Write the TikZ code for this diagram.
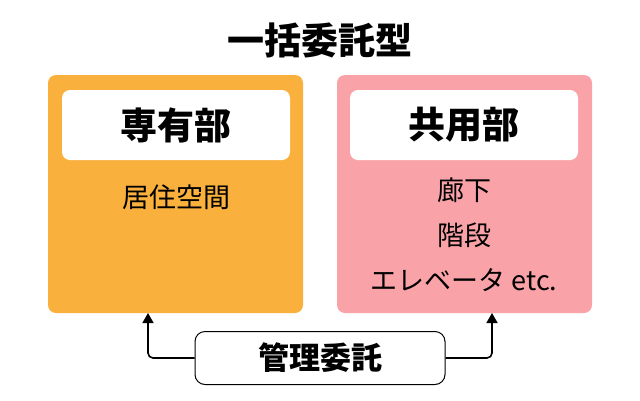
\documentclass[tikz,border=0pt]{standalone}
\usepackage{fontspec}
\setmainfont{Noto Sans CJK JP}
\usetikzlibrary{arrows.meta}
\definecolor{orng}{HTML}{F9B03C}
\definecolor{pnk}{HTML}{F9A3A9}
\tikzset{
  outer/.style={rounded corners=8pt,draw=none},
  inner/.style={fill=white,rounded corners=8pt,draw=none},
  conn/.style={line width=1.6pt,-{Triangle[length=10pt,width=11pt]},rounded corners=5pt},
}
\begin{document}
\begin{tikzpicture}[x=1pt,y=-1pt]
\useasboundingbox (0,0) rectangle (640,400);
\node (title) at (320,40) {\fontsize{37}{40}\selectfont\bfseries 一括委託型};
\fill[orng,outer] (48,75) rectangle (303,313);
\fill[inner] (62,90) rectangle (290,160);
\node (l) at (176,125) {\fontsize{37}{40}\selectfont\bfseries 専有部};
\node (lt) at (176,197) {\fontsize{27}{30}\selectfont 居住空間};
\fill[pnk,outer] (337,75) rectangle (592,313);
\fill[inner] (350,90) rectangle (578,160);
\node (r) at (464,125) {\fontsize{37}{40}\selectfont\bfseries 共用部};
\node[align=center,font=\fontsize{27}{45}\selectfont] (rt) at (464,235) {廊下\\階段\\エレベータ etc.};
\node[draw,line width=1pt,rounded corners=10pt,minimum width=250pt,minimum height=53pt,fill=white] (m) at (320,358) {\fontsize{31}{34}\selectfont\bfseries 管理委託};
\coordinate (la) at (148,313);
\coordinate (ra) at (492,313);
\draw[conn] (m.west) -| (la);
\draw[conn] (m.east) -| (ra);
\end{tikzpicture}
\end{document}
